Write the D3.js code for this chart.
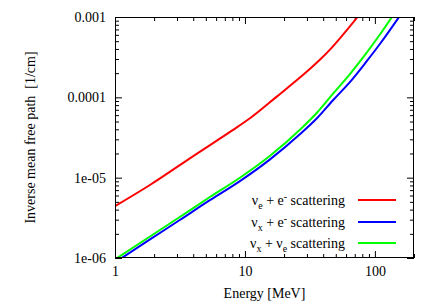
<!DOCTYPE html>
<html>
<head>
<meta charset="utf-8">
<script src="https://cdn.jsdelivr.net/npm/d3@7"></script>
<style>
  body { margin: 0; background: #fff; }
  svg text { font-family: "Liberation Serif", "DejaVu Serif", serif; font-size: 14px; fill: #000; }
</style>
</head>
<body>
<svg id="chart" width="436" height="305"></svg>
<script>
// Inverse mean free path vs energy

var energyTicks = [1, 10, 100];
var energyTickLabels = ["1", "10", "100"];
var pathTicks = [1e-6, 1e-5, 1e-4, 1e-3];
var pathTickLabels = ["1e-06", "1e-05", "0.0001", "0.001"];

// nu_e + e- scattering (red)
var redE = [1, 1.857, 4.11, 7.94, 10.93, 17.57, 28.2, 37.9, 45.3, 54.2, 73.6, 85];
var redV = [4.42e-6, 8.1e-6, 1.91e-5, 3.85e-5, 5.48e-5, 1.02e-4, 1.92e-4, 2.95e-4, 3.95e-4, 5.5e-4, 1.0e-3, 1.35e-3];

// nu_x + e- scattering (blue)
var blueE = [1, 1.846, 3.15, 5.37, 9.15, 15.6, 26.6, 35.8, 47.8, 64.7, 84.5, 110, 152.7, 172];
var blueV = [8.8e-7, 1.69e-6, 2.97e-6, 5.24e-6, 9.06e-6, 1.69e-5, 3.49e-5, 5.48e-5, 9.27e-5, 1.57e-4, 2.68e-4, 4.68e-4, 9.9e-4, 1.31e-3];

// nu_x + nu_e scattering (green)
var greenE = [1, 1.846, 3.15, 5.37, 9.15, 15.6, 26.6, 35.8, 47.8, 64.7, 84.5, 110, 152.7];
var greenV = [9.6e-7, 1.84e-6, 3.24e-6, 5.74e-6, 9.97e-6, 1.87e-5, 3.97e-5, 6.42e-5, 1.117e-4, 1.975e-4, 3.42e-4, 6.14e-4, 1.34e-3];

var plotLeft = 115, plotRight = 414, plotTop = 17, plotBottom = 258;

var svg = d3.select("#chart");

var x = d3.scaleLog().domain([1, 200]).range([plotLeft, plotRight]);
var y = d3.scaleLog().domain([1e-6, 1e-3]).range([plotBottom, plotTop]);

function minorTicks(lo, hi){
  var out = [];
  for(var d = lo; d < hi; d *= 10){
    for(var k = 2; k <= 9; k++){
      if(d*k <= hi) out.push(d*k);
    }
  }
  return out;
}
var xMinor = minorTicks(1, 200);
var yMinor = minorTicks(1e-6, 1e-3);

function styleAxis(g){
  g.select(".domain").remove();
  g.attr("font-family", null).attr("font-size", null);
  g.selectAll(".tick line").attr("stroke", "#000").attr("stroke-width", 1);
}

// bottom
svg.append("g").attr("transform", "translate(0," + plotBottom + ")")
  .call(d3.axisBottom(x).tickValues(energyTicks).tickSize(-7).tickPadding(8)
    .tickFormat(function(d, i){ return energyTickLabels[i]; }))
  .call(styleAxis);
svg.append("g").attr("transform", "translate(0," + plotBottom + ")")
  .call(d3.axisBottom(x).tickValues(xMinor).tickSize(-4).tickFormat(""))
  .call(styleAxis);
// top
svg.append("g").attr("transform", "translate(0," + plotTop + ")")
  .call(d3.axisTop(x).tickValues(energyTicks).tickSize(-7).tickFormat(""))
  .call(styleAxis);
svg.append("g").attr("transform", "translate(0," + plotTop + ")")
  .call(d3.axisTop(x).tickValues(xMinor).tickSize(-4).tickFormat(""))
  .call(styleAxis);
// left
svg.append("g").attr("transform", "translate(" + plotLeft + ",0)")
  .call(d3.axisLeft(y).tickValues(pathTicks).tickSize(-7).tickPadding(9)
    .tickFormat(function(d, i){ return pathTickLabels[i]; }))
  .call(styleAxis);
svg.append("g").attr("transform", "translate(" + plotLeft + ",0)")
  .call(d3.axisLeft(y).tickValues(yMinor).tickSize(-4).tickFormat(""))
  .call(styleAxis);
// right
svg.append("g").attr("transform", "translate(" + plotRight + ",0)")
  .call(d3.axisRight(y).tickValues(pathTicks).tickSize(-7).tickFormat(""))
  .call(styleAxis);
svg.append("g").attr("transform", "translate(" + plotRight + ",0)")
  .call(d3.axisRight(y).tickValues(yMinor).tickSize(-4).tickFormat(""))
  .call(styleAxis);

// clip
svg.append("clipPath").attr("id", "plotclip")
  .append("rect").attr("x", plotLeft).attr("y", plotTop)
  .attr("width", plotRight - plotLeft).attr("height", plotBottom - plotTop);

var line = d3.line()
  .x(function(d){ return x(d[0]); })
  .y(function(d){ return y(d[1]); })
  .curve(d3.curveMonotoneX);

var series = [
  {e: redE, v: redV, color: "#ff0000"},
  {e: blueE, v: blueV, color: "#0000ff"},
  {e: greenE, v: greenV, color: "#00ff00"}
];

// draw red, green, then blue
var plotG = svg.append("g").attr("clip-path", "url(#plotclip)");
[series[0], series[2], series[1]].forEach(function(s){
  plotG.append("path")
    .datum(d3.zip(s.e, s.v))
    .attr("fill", "none")
    .attr("stroke", s.color)
    .attr("stroke-width", 2)
    .attr("d", line);
});

// frame
svg.append("rect")
  .attr("x", plotLeft + 0.5).attr("y", plotTop + 0.5)
  .attr("width", plotRight - plotLeft - 1).attr("height", plotBottom - plotTop - 1)
  .attr("fill", "none").attr("stroke", "#000").attr("stroke-width", 1);

// axis titles
svg.append("text")
  .attr("x", (plotLeft + plotRight) / 2).attr("y", 298)
  .attr("text-anchor", "middle")
  .text("Energy [MeV]");

svg.append("text")
  .attr("transform", "translate(35," + ((plotTop + plotBottom) / 2) + ") rotate(-90)")
  .attr("text-anchor", "middle")
  .style("white-space", "pre")
  .text("Inverse mean free path  [1/cm]");

// legend
var legendRows = [
  {sub1: "e", sup: "-", color: "#ff0000"},
  {sub1: "x", sup: "-", color: "#0000ff"},
  {sub1: "x", sub2: "e", color: "#00ff00"}
];
var legendY = [200, 222, 243];
var legendTextRight = 345, legendLineX1 = 358, legendLineX2 = 396;

legendRows.forEach(function(r, i){
  var ly = legendY[i];
  var t = svg.append("text")
    .attr("x", legendTextRight).attr("y", ly + 5)
    .attr("text-anchor", "end")
    .style("white-space", "pre");
  t.append("tspan").text("ν");
  t.append("tspan").attr("font-size", 10).attr("dy", 4).text(r.sub1);
  if(r.sup){
    t.append("tspan").attr("dy", -4).text(" + e");
    t.append("tspan").attr("font-size", 10).attr("dy", -5).text(r.sup);
    t.append("tspan").attr("dy", 5).text(" scattering");
  } else {
    t.append("tspan").attr("dy", -4).text(" + ν");
    t.append("tspan").attr("font-size", 10).attr("dy", 4).text(r.sub2);
    t.append("tspan").attr("dy", -4).text(" scattering");
  }
  svg.append("line")
    .attr("x1", legendLineX1).attr("x2", legendLineX2)
    .attr("y1", ly).attr("y2", ly)
    .attr("stroke", r.color).attr("stroke-width", 2);
});
</script>
</body>
</html>
